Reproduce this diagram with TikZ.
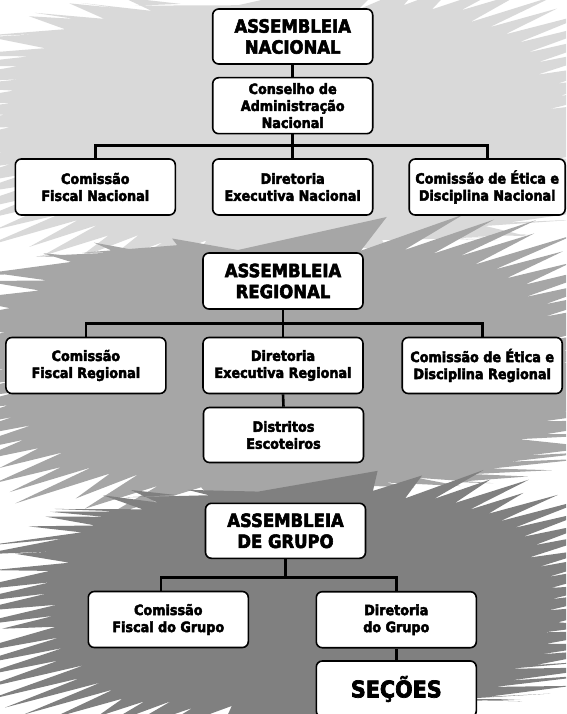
\documentclass[tikz,border=0pt]{standalone}
\usepackage{fontspec}
\newfontfamily\boxfont{DejaVuSansCondensed-Bold.ttf}
\usetikzlibrary{calc}

\definecolor{splA}{HTML}{D9D9D9}
\definecolor{splB}{HTML}{A6A6A6}
\definecolor{splC}{HTML}{808080}

\newcommand{\heavytext}[1]{\special{pdf:literal direct 0 G 2 Tr #1 w}}
\newcommand{\boxsmall}{\boxfont\fontsize{14.2}{17}\selectfont\heavytext{0.45}}
\newcommand{\boxbig}{\boxfont\fontsize{18.3}{21}\selectfont\heavytext{0.55}}
\newcommand{\boxhuge}{\boxfont\fontsize{23}{26}\selectfont\heavytext{0.7}}

% color, cx, cy, rx, ry, seed, Lmin, Lvar
\newcommand{\splat}[8]{%
  \pgfmathsetseed{#6}%
  \foreach \i in {0,...,119}{%
    \pgfmathsetmacro\spT{1.5+3*\i}%
    \pgfmathsetmacro\spC{cos(\spT)}%
    \pgfmathsetmacro\spS{sin(\spT)}%
    \pgfmathsetmacro\spG{\spC/abs(\spC)}%
    \pgfmathsetmacro\spBx{\spG*sqrt(abs(\spC))}%
    \ifodd\i\relax
      \pgfmathsetmacro\spF{0.84+0.08*rnd}%
      \pgfmathsetmacro\spX{#2+\spF*#4*\spBx}%
      \pgfmathsetmacro\spY{#3+\spF*#5*\spS}%
    \else
      \pgfmathsetmacro\spL{#7+#8*rnd}%
      \pgfmathsetmacro\spX{#2+#4*\spBx+\spG*\spL*0.96}%
      \pgfmathsetmacro\spY{#3+#5*\spS-\spG*\spL*0.28}%
    \fi
    \ifnum\i=0 \xdef\sppath{(\spX,\spY)}\else\xdef\sppath{\sppath -- (\spX,\spY)}\fi
  }%
  \fill[#1] \sppath -- cycle;%
}

\tikzset{
  box/.style={draw=black, line width=1.6pt, fill=white, rounded corners=6pt,
    minimum width=160pt, minimum height=55pt, align=center, inner sep=0pt, font=\boxsmall},
  bigbox/.style={box, font=\boxbig},
  conn/.style={draw=black, line width=2.6pt, line join=miter},
}

\begin{document}
\begin{tikzpicture}[x=1pt, y=-1pt]
\useasboundingbox (0,0) rectangle (566,714);
\clip (0,0) rectangle (566,714);

% background splashes
\splat{splA}{283}{124}{318}{136}{11}{15}{60}
\splat{splB}{283}{366}{322}{134}{23}{15}{60}
\splat{splC}{300}{602}{285}{122}{37}{15}{60}

% ---------- Nacional ----------
\node[bigbox] (an) at (292.7,36.5) {ASSEMBLEIA\\NACIONAL};
\node[box, minimum height=56pt] (can) at (292.7,105.7) {Conselho de\\Administração\\Nacional};
\node[box, minimum height=56pt] (fn) at (95.3,187) {Comissão\\Fiscal Nacional};
\node[box, minimum height=56pt] (dn) at (292.7,187) {Diretoria\\Executiva Nacional};
\node[box, minimum height=56pt, minimum width=156pt] (en) at (487.2,187) {Comissão de Ética e\\Disciplina Nacional};
\coordinate (busN) at (292.7,145.7);
\draw[conn] (an.south) -- (can.north);
\draw[conn] (can.south) -- (dn.north);
\draw[conn] (fn.north) -- (fn.north |- busN) -- (en.north |- busN) -- (en.north);

% ---------- Regional ----------
\node[bigbox, minimum height=56pt] (ar) at (283,281) {ASSEMBLEIA\\REGIONAL};
\node[box, minimum height=56pt] (fr) at (85.9,365.5) {Comissão\\Fiscal Regional};
\node[box, minimum height=56pt] (dr) at (283,365.5) {Diretoria\\Executiva Regional};
\node[box, minimum height=56pt] (er) at (482.2,365.5) {Comissão de Ética e\\Disciplina Regional};
\node[box] (ds) at (283.5,435) {Distritos\\Escoteiros};
\coordinate (busR) at (283,323.5);
\draw[conn] (ar.south) -- (dr.north);
\draw[conn] (fr.north) -- (fr.north |- busR) -- (er.north |- busR) -- (er.north);
\draw[conn] (dr.south) -- (ds.north);

% ---------- Grupo ----------
\node[bigbox] (ag) at (285.5,530.8) {ASSEMBLEIA\\DE GRUPO};
\node[box, minimum height=56pt] (fg) at (168.3,619.5) {Comissão\\Fiscal do Grupo};
\node[box, minimum height=56pt] (dg) at (396.3,619.7) {Diretoria\\do Grupo};
\node[box, minimum height=56pt, font=\boxhuge] (sec) at (396.3,689) {SEÇÕES};
\coordinate (busGL) at (161,577.5);
\draw[conn] (ag.south) -- (ag.south |- busGL);
\draw[conn] (busGL |- fg.north) -- (busGL) -- (dg.north |- busGL) -- (dg.north);
\draw[conn] (dg.south) -- (sec.north);
\end{tikzpicture}
\end{document}
